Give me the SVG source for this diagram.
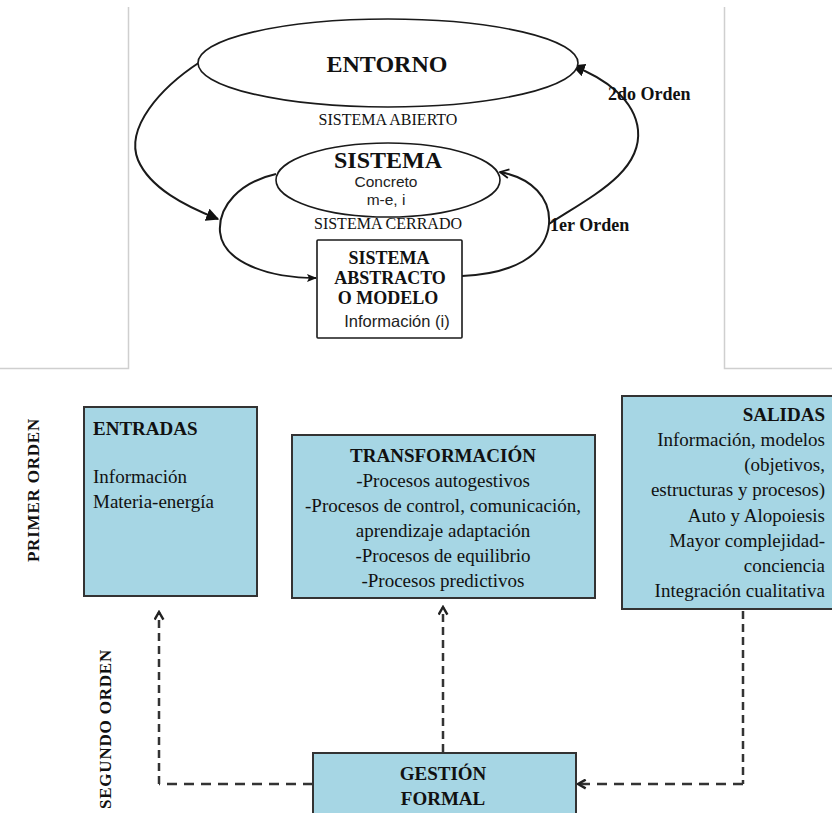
<svg xmlns="http://www.w3.org/2000/svg" width="832" height="813" viewBox="0 0 832 813">
<style>
.serif{font-family:"Liberation Serif","Times New Roman",serif;fill:#111}
.sans{font-family:"Liberation Sans",Arial,sans-serif;fill:#222}
.b{font-weight:bold}
.mid{text-anchor:middle}
.end{text-anchor:end}
.frame{stroke:#cfcfcf;stroke-width:1.5;fill:none}
.line{fill:none;stroke:#1a1a1a;stroke-width:2}
.shape{fill:#fff;stroke:#1a1a1a;stroke-width:1.6}
.box{fill:#a6d6e4;stroke:#333;stroke-width:2}
.dash{fill:none;stroke:#333;stroke-width:2.5;stroke-dasharray:8 5}
.dashh{fill:none;stroke:#333;stroke-width:2.5;stroke-dasharray:10 7}
.t19{font-size:19px}
.side{font-size:17px;letter-spacing:0.8px}
</style>
<defs>
<marker id="ahFill" viewBox="0 0 10 10" refX="9" refY="5" markerWidth="13" markerHeight="13" markerUnits="userSpaceOnUse" orient="auto"><path d="M0,0 L10,5 L0,10 z" fill="#111"/></marker>
<marker id="ahSmall" viewBox="0 0 10 10" refX="9" refY="5" markerWidth="10" markerHeight="10" markerUnits="userSpaceOnUse" orient="auto"><path d="M0,1 L10,5 L0,9 L2,5 z" fill="#111"/></marker>
<marker id="ahOpen" viewBox="0 0 10 10" refX="9" refY="5" markerWidth="11" markerHeight="11" markerUnits="userSpaceOnUse" orient="auto"><path d="M1,1 L9,5 L1,9" fill="none" stroke="#111" stroke-width="1.6"/></marker>
<marker id="ahDash" viewBox="0 0 10 10" refX="8" refY="5" markerWidth="11" markerHeight="11" markerUnits="userSpaceOnUse" orient="auto"><path d="M1,1 L8,5 L1,9" fill="none" stroke="#222" stroke-width="2.2"/></marker>
</defs>

<g id="frame">
<path class="frame" d="M128.5,7 V368.5 H0"/>
<path class="frame" d="M724.5,7 V368.5 H832"/>
</g>

<g id="connectors">
<path class="line" d="M200,62 C160,88 125,128 138,160 C150,188 185,206 218,219" marker-end="url(#ahFill)"/>
<path class="line" d="M549,224 C592,196 642,172 638,130 C635,100 605,78 573,66" marker-end="url(#ahFill)"/>
<path class="line" d="M462,276 C512,274 546,256 549,224 C551,198 532,178 500,172" marker-end="url(#ahOpen)"/>
<path class="line" d="M276,174 C240,182 218,206 220,232 C223,262 268,278 316,278" marker-end="url(#ahSmall)"/>
<path class="dashh" d="M313,784 H159"/>
<path class="dash" d="M159,784 V612" marker-end="url(#ahDash)"/>
<path class="dash" d="M443,752 V607" marker-end="url(#ahDash)"/>
<path class="dash" d="M743,611 V784"/>
<path class="dashh" d="M743,784 H578" marker-end="url(#ahDash)"/>
</g>

<g id="entorno">
<ellipse class="shape" cx="388" cy="63" rx="190" ry="44"/>
<text class="serif b mid" x="387" y="72" font-size="24">ENTORNO</text>
</g>
<text class="serif mid" x="388" y="125" font-size="16">SISTEMA ABIERTO</text>
<text class="serif b" x="608" y="100" font-size="18">2do Orden</text>

<g id="sistema">
<ellipse class="shape" cx="388" cy="180" rx="112" ry="37"/>
<text class="serif b mid" x="388" y="168" font-size="24">SISTEMA</text>
<text class="sans mid" x="386" y="187" font-size="15.5">Concreto</text>
<text class="sans mid" x="386" y="205" font-size="15.5">m-e, i</text>
</g>
<text class="serif mid" x="388" y="229" font-size="16">SISTEMA CERRADO</text>
<text class="serif b" x="550" y="231" font-size="18">1er Orden</text>

<g id="abstracto">
<rect class="shape" x="317" y="240" width="145" height="98" rx="1"/>
<text class="serif b mid" x="389" y="264" font-size="18">SISTEMA</text>
<text class="serif b mid" x="390" y="284" font-size="18">ABSTRACTO</text>
<text class="serif b mid" x="388" y="304" font-size="18">O MODELO</text>
<text class="sans mid" x="397" y="327" font-size="16.5">Información (i)</text>
</g>

<text class="serif b side" transform="translate(38.5,490) rotate(-90)" text-anchor="middle">PRIMER<tspan dx="5">ORDEN</tspan></text>
<text class="serif b side" transform="translate(111,729) rotate(-90)" text-anchor="middle">SEGUNDO ORDEN</text>

<g id="entradas">
<rect class="box" x="84" y="407" width="173" height="189"/>
<text class="serif b t19" x="93" y="435">ENTRADAS</text>
<text class="serif t19" x="93" y="483">Información</text>
<text class="serif t19" x="93" y="508">Materia-energía</text>
</g>

<g id="transformacion">
<rect class="box" x="292" y="435" width="303" height="163"/>
<text class="serif b t19 mid" x="443" y="462">TRANSFORMACIÓN</text>
<text class="serif t19 mid" x="443" y="487">-Procesos autogestivos</text>
<text class="serif t19 mid" x="443" y="512">-Procesos de control, comunicación,</text>
<text class="serif t19 mid" x="443" y="537">aprendizaje adaptación</text>
<text class="serif t19 mid" x="443" y="562">-Procesos de equilibrio</text>
<text class="serif t19 mid" x="443" y="587">-Procesos predictivos</text>
</g>

<g id="salidas">
<rect class="box" x="622" y="396" width="222" height="213"/>
<text class="serif b t19 end" x="825" y="421">SALIDAS</text>
<text class="serif t19 end" x="825" y="446">Información, modelos</text>
<text class="serif t19 end" x="825" y="471">(objetivos,</text>
<text class="serif t19 end" x="825" y="496">estructuras y procesos)</text>
<text class="serif t19 end" x="825" y="522">Auto y Alopoiesis</text>
<text class="serif t19 end" x="825" y="547">Mayor complejidad-</text>
<text class="serif t19 end" x="825" y="572">conciencia</text>
<text class="serif t19 end" x="825" y="597">Integración cualitativa</text>
</g>

<g id="gestion">
<rect class="box" x="313" y="753" width="263" height="70"/>
<text class="serif b t19 mid" x="443" y="780">GESTIÓN</text>
<text class="serif b t19 mid" x="443" y="805">FORMAL</text>
</g>
</svg>
